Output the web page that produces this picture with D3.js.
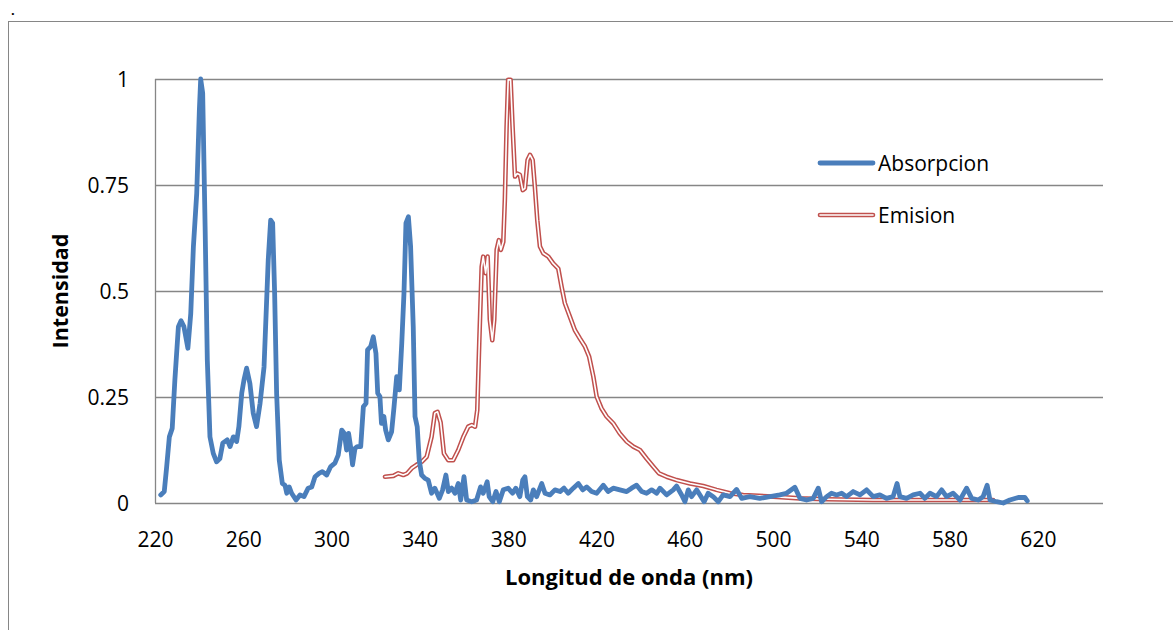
<!DOCTYPE html>
<html>
<head>
<meta charset="utf-8">
<script src="https://cdn.jsdelivr.net/npm/d3@7"></script>
<style>
  body { margin: 0; background: #fff; }
  text { font-family: "Open Sans", "Liberation Sans", sans-serif; fill: #000; }
</style>
</head>
<body>
<div id="vis"></div>
<script>
// absorption spectrum (wavelength nm / normalised intensity)
var absNm = [222.6,224.2,225.3,226.5,227.8,229.0,230.6,231.8,233.1,234.9,236.2,237.4,238.9,240.1,240.7,241.6,242.7,243.7,244.9,246.4,
  247.9,249.4,250.7,252.7,254.0,255.5,257.0,258.0,259.3,260.3,261.5,263.0,264.5,266.0,267.6,269.4,271.3,272.4,273.3,274.2,
  275.1,276.3,277.7,278.9,279.7,280.8,281.9,283.9,285.7,287.5,289.4,291.0,292.5,294.3,295.8,297.8,299.6,301.5,303.0,304.6,
  305.8,306.8,307.7,308.6,309.5,310.6,311.6,313.2,314.4,315.6,316.3,317.7,318.9,320.1,320.9,321.9,322.6,323.7,324.5,325.7,
  327.2,328.3,329.5,330.7,331.8,332.8,333.7,334.8,335.8,337.0,337.8,338.8,339.7,340.8,342.3,343.8,345.3,346.8,348.8,350.3,
  351.8,352.9,354.4,355.9,357.4,358.5,360.0,361.2,363.5,365.7,367.5,368.7,370.5,371.4,373.0,374.5,376.0,377.8,380.0,382.0,
  383.5,385.3,386.6,387.6,388.7,390.2,391.4,392.9,395.2,396.7,398.9,401.2,403.5,405.3,407.2,409.5,411.8,413.8,415.6,417.8,
  420.1,423.1,425.3,427.6,430.6,433.7,435.9,438.2,440.5,442.7,445.0,447.3,448.8,451.8,454.8,456.3,458.6,460.1,461.6,463.1,
  465.4,466.9,468.8,470.6,472.9,475.2,477.4,480.5,483.5,485.8,489.5,494.0,498.6,503.1,506.1,509.9,512.2,515.2,518.2,520.5,
  522.0,524.3,526.5,528.8,531.1,533.3,536.3,539.4,542.4,545.4,548.4,551.4,554.4,556.2,557.5,560.5,563.5,566.6,568.8,571.1,
  574.1,576.4,578.6,581.6,584.7,587.7,590.0,593.0,595.2,597.0,598.3,601.3,604.3,607.3,611.1,614.1,615.2];
var absVal = [0.019,0.027,0.086,0.156,0.176,0.29,0.416,0.43,0.416,0.365,0.447,0.605,0.73,0.927,1.0,0.967,0.652,0.337,0.156,0.117,
  0.097,0.105,0.141,0.149,0.133,0.156,0.145,0.18,0.259,0.29,0.318,0.282,0.212,0.18,0.235,0.321,0.573,0.667,0.66,0.495,
  0.259,0.101,0.046,0.042,0.023,0.038,0.023,0.007,0.019,0.015,0.035,0.038,0.062,0.07,0.074,0.066,0.086,0.094,0.113,0.172,
  0.164,0.125,0.164,0.133,0.09,0.129,0.133,0.133,0.227,0.235,0.361,0.369,0.392,0.353,0.259,0.251,0.188,0.204,0.172,0.149,
  0.168,0.227,0.298,0.267,0.377,0.495,0.66,0.675,0.605,0.416,0.204,0.18,0.101,0.066,0.058,0.054,0.023,0.035,0.011,0.031,
  0.066,0.027,0.035,0.023,0.046,0.007,0.062,0.007,0.003,0.007,0.038,0.023,0.05,0.015,0.003,0.027,0.003,0.031,0.035,0.023,
  0.035,0.015,0.054,0.062,0.015,0.007,0.031,0.015,0.046,0.023,0.019,0.031,0.027,0.035,0.023,0.035,0.046,0.031,0.038,0.027,
  0.023,0.042,0.027,0.035,0.031,0.027,0.035,0.042,0.027,0.023,0.031,0.023,0.035,0.019,0.031,0.04,0.019,0.003,0.031,0.015,
  0.031,0.019,0.003,0.023,0.015,0.003,0.019,0.015,0.032,0.011,0.015,0.011,0.015,0.019,0.023,0.037,0.011,0.007,0.011,0.035,
  0.003,0.015,0.023,0.019,0.023,0.015,0.027,0.019,0.031,0.015,0.019,0.011,0.015,0.046,0.015,0.011,0.019,0.023,0.011,0.023,
  0.015,0.031,0.015,0.023,0.007,0.035,0.011,0.007,0.015,0.042,0.007,0.003,0.0,0.007,0.013,0.013,0.005];

// emission spectrum
var emNm = [324.2,328.0,330.2,332.5,334.3,336.3,338.5,340.8,343.1,345.3,346.8,348.0,349.4,350.9,352.9,355.1,357.4,359.7,361.9,363.5,
  365.0,366.0,366.9,368.0,368.7,369.8,370.7,371.7,372.8,373.7,374.8,375.8,376.7,377.8,378.5,379.3,380.0,381.1,382.0,383.1,
  384.1,385.3,386.6,387.6,388.8,389.9,391.1,392.1,393.2,394.4,395.9,398.2,400.4,402.7,404.2,405.7,408.0,410.2,412.5,414.8,
  416.7,418.6,420.1,422.3,424.6,427.6,430.6,433.7,436.7,439.7,442.7,445.7,448.3,451.8,456.3,462.4,468.4,474.4,480.5,486.5,
  500.1,512.2,524.3,545.4,568.0,590.7,599.7];
var emVal = [0.062,0.064,0.07,0.066,0.07,0.082,0.09,0.097,0.109,0.156,0.212,0.215,0.19,0.117,0.101,0.101,0.125,0.156,0.18,0.184,
  0.18,0.219,0.377,0.557,0.581,0.542,0.581,0.432,0.384,0.432,0.597,0.62,0.597,0.616,0.715,0.888,0.998,0.998,0.888,0.77,
  0.777,0.774,0.738,0.742,0.809,0.821,0.809,0.746,0.667,0.605,0.589,0.581,0.565,0.553,0.51,0.471,0.439,0.408,0.388,0.369,
  0.345,0.298,0.251,0.223,0.204,0.188,0.164,0.145,0.133,0.125,0.105,0.086,0.07,0.062,0.054,0.046,0.04,0.031,0.023,0.019,
  0.015,0.011,0.009,0.007,0.007,0.007,0.007];

var xTicks = [220,260,300,340,380,420,460,500,540,580,620];
var yTicks = [0,0.25,0.5,0.75,1];
var seriesNames = ["Absorpcion","Emision"];

var width = 1173, height = 630;
var plot = {left: 155, right: 1103, top: 79, bottom: 503};
var blue = "#4a7ebb", red = "#c0504d", grid = "#868686";

var svg = d3.select("#vis").append("svg")
  .attr("width", width)
  .attr("height", height);

// chart frame
svg.append("rect")
  .attr("x", 8.5).attr("y", 21.5)
  .attr("width", 1200).attr("height", 700)
  .attr("fill", "none").attr("stroke", grid).attr("stroke-width", 1);

svg.append("text").attr("x", 11).attr("y", 15)
  .style("font-size", "13px").style("font-weight", "bold").text(".");

var x = d3.scaleLinear().domain([220, 649.5]).range([plot.left, plot.right]);
var y = d3.scaleLinear().domain([0, 1]).range([plot.bottom, plot.top]);

// gridlines
svg.append("g")
  .selectAll("line")
  .data(yTicks)
  .join("line")
  .attr("x1", plot.left).attr("x2", plot.right)
  .attr("y1", function(d) { return Math.round(y(d)) + 0.5; })
  .attr("y2", function(d) { return Math.round(y(d)) + 0.5; })
  .attr("stroke", grid).attr("stroke-width", 1.3);

svg.append("line")
  .attr("x1", plot.left + 0.5).attr("x2", plot.left + 0.5)
  .attr("y1", plot.top).attr("y2", plot.bottom)
  .attr("stroke", grid).attr("stroke-width", 1.3);

// y axis
var yAxis = svg.append("g")
  .attr("transform", "translate(" + (plot.left - 26) + ",0)")
  .call(d3.axisLeft(y).tickValues(yTicks).tickSize(0).tickFormat(function(d) { return String(d); }));
yAxis.select(".domain").remove();
yAxis.selectAll("text").attr("x", 0).attr("dy", "0.36em")
  .style("font-size", "21px").style("font-family", "'Open Sans', sans-serif");

// x axis
var xAxis = svg.append("g")
  .attr("transform", "translate(0," + plot.bottom + ")")
  .call(d3.axisBottom(x).tickValues(xTicks).tickSize(0).tickFormat(d3.format("d")));
xAxis.select(".domain").remove();
xAxis.selectAll("text").attr("y", 44).attr("dy", 0)
  .style("font-size", "21px").style("font-family", "'Open Sans', sans-serif");

// axis titles
svg.append("text")
  .attr("x", (plot.left + plot.right) / 2).attr("y", 585)
  .attr("text-anchor", "middle")
  .style("font-size", "22px").style("font-weight", "bold")
  .text("Longitud de onda (nm)");

svg.append("text")
  .attr("transform", "translate(68,291) rotate(-90)")
  .attr("text-anchor", "middle")
  .style("font-size", "21.5px").style("font-weight", "bold")
  .text("Intensidad");

var line = d3.line()
  .x(function(d) { return x(d[0]); })
  .y(function(d) { return y(d[1]); });

var absData = d3.zip(absNm, absVal);
var emData = d3.zip(emNm, emVal);

// emission: double line (red outline with white core)
svg.append("path").datum(emData)
  .attr("d", line).attr("fill", "none")
  .attr("stroke", red).attr("stroke-width", 4.6)
  .attr("stroke-linejoin", "round").attr("stroke-linecap", "round");
svg.append("path").datum(emData)
  .attr("d", line).attr("fill", "none")
  .attr("stroke", "#fff").attr("stroke-width", 1.6)
  .attr("stroke-linejoin", "round").attr("stroke-linecap", "round");

// absorption
svg.append("path").datum(absData)
  .attr("d", line).attr("fill", "none")
  .attr("stroke", blue).attr("stroke-width", 4.8)
  .attr("stroke-linejoin", "round").attr("stroke-linecap", "round");

// legend
var legend = svg.append("g");
var legY = [163, 215];
legend.selectAll("text")
  .data(seriesNames)
  .join("text")
  .attr("x", 878)
  .attr("y", function(d, i) { return legY[i]; })
  .attr("dy", "0.36em")
  .style("font-size", "21px")
  .text(function(d) { return d; });

legend.append("line")
  .attr("x1", 820).attr("x2", 873).attr("y1", legY[0]).attr("y2", legY[0])
  .attr("stroke", blue).attr("stroke-width", 4.8).attr("stroke-linecap", "round");
legend.append("line")
  .attr("x1", 820).attr("x2", 873).attr("y1", legY[1]).attr("y2", legY[1])
  .attr("stroke", red).attr("stroke-width", 4.6).attr("stroke-linecap", "round");
legend.append("line")
  .attr("x1", 820).attr("x2", 873).attr("y1", legY[1]).attr("y2", legY[1])
  .attr("stroke", "#fff").attr("stroke-width", 1.6).attr("stroke-linecap", "round");
</script>
</body>
</html>
